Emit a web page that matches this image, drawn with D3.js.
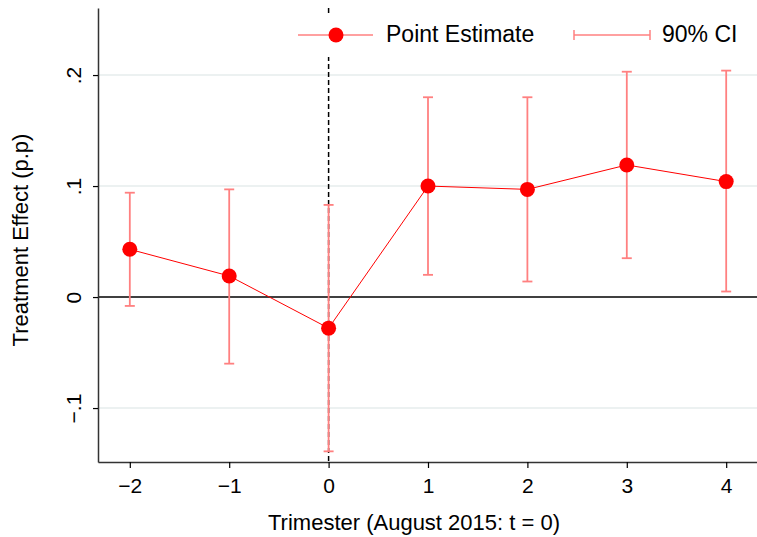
<!DOCTYPE html>
<html>
<head>
<meta charset="utf-8">
<script src="https://cdn.jsdelivr.net/npm/d3@7"></script>
<style>
  body { margin: 0; background: #fff; }
  svg { display: block; font-family: "Liberation Sans", Arial, sans-serif; }
</style>
</head>
<body>
<svg id="chart" width="757" height="537"></svg>
<script>
// trimesters relative to August 2015
const periods = [-2, -1, 0, 1, 2, 3, 4];
const estimates = [0.043, 0.019, -0.028, 0.100, 0.097, 0.119, 0.104];
const ciLow = [-0.008, -0.060, -0.139, 0.020, 0.014, 0.035, 0.005];
const ciHigh = [0.094, 0.097, 0.083, 0.180, 0.180, 0.203, 0.204];
const yTicks = [-0.1, 0, 0.1, 0.2];
const yTickLabels = ['\u2212.1', '0', '.1', '.2'];

const svg = d3.select('#chart');
const margin = { top: 8, right: 0, bottom: 75, left: 98 };
const width = 757;
const height = 537;

const x = d3.scaleLinear().domain([-2.32, 4.31]).range([margin.left, width - margin.right]);
const y = d3.scaleLinear().domain([-0.1486, 0.2604]).range([height - margin.bottom, margin.top]);

const red = '#ff0000';
const ciColor = '#ff8080';

// grid lines
svg.append('g')
  .selectAll('line')
  .data(yTicks.filter((t) => t !== 0))
  .enter()
  .append('line')
  .attr('x1', margin.left)
  .attr('x2', width - margin.right)
  .attr('y1', (d) => y(d))
  .attr('y2', (d) => y(d))
  .attr('stroke', '#e6eded')
  .attr('stroke-width', 1.5);

// zero line
svg.append('line')
  .attr('x1', margin.left)
  .attr('x2', width - margin.right)
  .attr('y1', y(0))
  .attr('y2', y(0))
  .attr('stroke', '#000')
  .attr('stroke-width', 1.5);

// event line at t = 0
svg.append('line')
  .attr('x1', x(0))
  .attr('x2', x(0))
  .attr('y1', margin.top)
  .attr('y2', height - margin.bottom)
  .attr('stroke', '#000')
  .attr('stroke-width', 1.5)
  .attr('stroke-dasharray', '5,3');

// confidence intervals
const ci = svg.append('g')
  .attr('stroke', ciColor)
  .attr('stroke-width', 1.8);

periods.forEach((p, i) => {
  ci.append('line')
    .attr('x1', x(p)).attr('x2', x(p))
    .attr('y1', y(ciLow[i])).attr('y2', y(ciHigh[i]));
  [ciLow[i], ciHigh[i]].forEach((v) => {
    ci.append('line')
      .attr('x1', x(p) - 5).attr('x2', x(p) + 5)
      .attr('y1', y(v)).attr('y2', y(v));
  });
});

// connecting line
const line = d3.line()
  .x((d, i) => x(periods[i]))
  .y((d) => y(d));

svg.append('path')
  .datum(estimates)
  .attr('d', line)
  .attr('fill', 'none')
  .attr('stroke', red)
  .attr('stroke-width', 1);

svg.append('g')
  .selectAll('circle')
  .data(estimates)
  .enter()
  .append('circle')
  .attr('cx', (d, i) => x(periods[i]))
  .attr('cy', (d) => y(d))
  .attr('r', 7.5)
  .attr('fill', red);

// axes
const xAxis = d3.axisBottom(x)
  .tickValues(periods)
  .tickFormat((d) => (d < 0 ? '\u2212' + Math.abs(d) : String(d)))
  .tickSizeInner(6)
  .tickSizeOuter(0)
  .tickPadding(10);

const gx = svg.append('g')
  .attr('transform', `translate(0,${height - margin.bottom})`)
  .call(xAxis);
gx.select('.domain').attr('stroke', '#333').attr('stroke-width', 1.5);
gx.selectAll('.tick line').attr('stroke', '#000').attr('stroke-width', 1.2);
gx.selectAll('.tick text').attr('font-size', 21).attr('fill', '#000').attr('font-family', null);

const yAxis = d3.axisLeft(y)
  .tickValues(yTicks)
  .tickFormat((d, i) => yTickLabels[i])
  .tickSizeInner(5)
  .tickSizeOuter(0)
  .tickPadding(0);

const gy = svg.append('g')
  .attr('transform', `translate(${margin.left},0)`)
  .call(yAxis);
gy.select('.domain').attr('stroke', '#333').attr('stroke-width', 1.5);
gy.selectAll('.tick line').attr('stroke', '#000').attr('stroke-width', 1.2);
gy.selectAll('.tick text')
  .attr('font-size', 21)
  .attr('fill', '#000')
  .attr('font-family', null)
  .attr('x', null)
  .attr('dy', null)
  .attr('text-anchor', 'middle')
  .attr('transform', 'translate(-17,0) rotate(-90)');

// axis titles
svg.append('text')
  .attr('x', 414)
  .attr('y', 530)
  .attr('text-anchor', 'middle')
  .attr('font-size', 22)
  .text('Trimester (August 2015: t = 0)');

svg.append('text')
  .attr('transform', 'translate(28,240) rotate(-90)')
  .attr('text-anchor', 'middle')
  .attr('font-size', 22)
  .text('Treatment Effect (p.p)');

// legend
const legend = svg.append('g');
legend.append('rect')
  .attr('x', 290).attr('y', 14)
  .attr('width', 467).attr('height', 43)
  .attr('fill', '#fff');

const ly = 35;
legend.append('line')
  .attr('x1', 298).attr('x2', 373)
  .attr('y1', ly).attr('y2', ly)
  .attr('stroke', ciColor).attr('stroke-width', 1.5);
legend.append('circle')
  .attr('cx', 336).attr('cy', ly).attr('r', 7.5)
  .attr('fill', red);
legend.append('text')
  .attr('x', 386).attr('y', 42)
  .attr('font-size', 23)
  .text('Point Estimate');

const ciLeg = legend.append('g').attr('stroke', ciColor).attr('stroke-width', 1.5);
ciLeg.append('line').attr('x1', 574).attr('x2', 650).attr('y1', ly).attr('y2', ly);
ciLeg.append('line').attr('x1', 574).attr('x2', 574).attr('y1', ly - 5).attr('y2', ly + 5);
ciLeg.append('line').attr('x1', 650).attr('x2', 650).attr('y1', ly - 5).attr('y2', ly + 5);
legend.append('text')
  .attr('x', 662).attr('y', 42)
  .attr('font-size', 23)
  .text('90% CI');
</script>
</body>
</html>
